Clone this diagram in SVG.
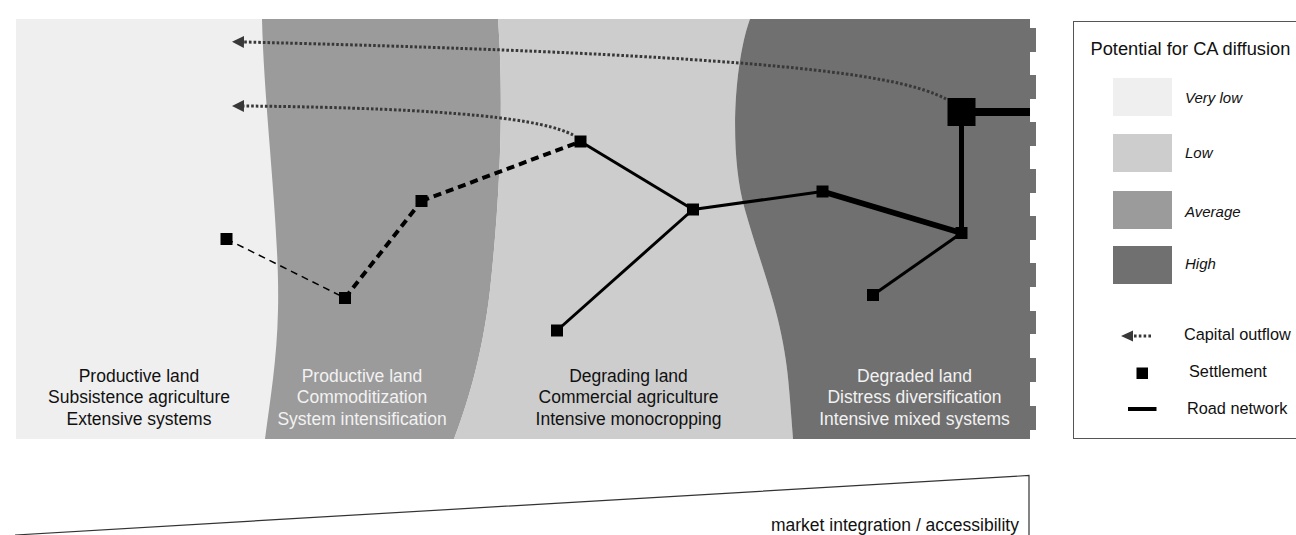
<svg xmlns="http://www.w3.org/2000/svg" width="1296" height="535" viewBox="0 0 1296 535">
<defs>
<style>
.lbl{font-family:"Liberation Sans",Arial,sans-serif;font-size:17.5px;text-anchor:middle}
.dk{fill:#111}
.lt{fill:#f2f2f2}
.node{fill:#000}
.road{fill:none;stroke:#000;stroke-linecap:butt}
.flow{fill:none;stroke:#383838;stroke-width:3;stroke-dasharray:2.6 2}
.leg{font-family:"Liberation Sans",Arial,sans-serif;font-size:16.3px;fill:#111}
.legi{font-family:"Liberation Sans",Arial,sans-serif;font-size:15px;font-style:italic;fill:#111}
</style>
<marker id="arr" markerUnits="userSpaceOnUse" markerWidth="12" markerHeight="12" viewBox="0 0 12 12" refX="0" refY="6" orient="auto">
<path d="M0,0 L12,6 L0,12 Z" fill="#383838"/>
</marker>
</defs>
<rect width="1296" height="535" fill="#fff"/>
<g id="zones">
<rect id="zone-very-low" x="16" y="19" width="1014" height="420" fill="#efefef"/>
<path id="zone-average" d="M262,19 C264,110 280,230 278,310 C277,360 270,400 265,439 L454,439 C465,410 482,360 490,290 C502,180 503,90 498,19 Z" fill="#9b9b9b"/>
<path id="zone-low" d="M498,19 C503,90 502,180 490,290 C482,360 465,410 454,439 L793,439 L790,400 C785,320 765,280 745,210 C728,150 735,60 750,19 Z" fill="#cdcdcd"/>
<g id="zone-high" fill="#707070">
<path d="M750,19 C735,60 728,150 745,210 C765,280 785,320 790,400 L793,439 L1030,439 L1030,19 Z"/>
<rect x="1029" y="28" width="7" height="24"/>
<rect x="1029" y="75" width="7" height="24"/>
<rect x="1029" y="122" width="7" height="24"/>
<rect x="1029" y="169" width="7" height="24"/>
<rect x="1029" y="216" width="7" height="24"/>
<rect x="1029" y="263" width="7" height="24"/>
<rect x="1029" y="311" width="7" height="23"/>
<rect x="1029" y="358" width="7" height="24"/>
<rect x="1029" y="406" width="7" height="24"/>
</g>
</g>
<g id="zone-labels">
<text class="lbl dk" x="139" y="381.5">Productive land</text>
<text class="lbl dk" x="139" y="403">Subsistence agriculture</text>
<text class="lbl dk" x="139" y="424.5">Extensive systems</text>
<text class="lbl lt" x="362" y="381.5">Productive land</text>
<text class="lbl lt" x="362" y="403">Commoditization</text>
<text class="lbl lt" x="362" y="424.5">System intensification</text>
<text class="lbl dk" x="628.5" y="381.5">Degrading land</text>
<text class="lbl dk" x="628.5" y="403">Commercial agriculture</text>
<text class="lbl dk" x="628.5" y="424.5">Intensive monocropping</text>
<text class="lbl lt" x="914.5" y="381.5">Degraded land</text>
<text class="lbl lt" x="914.5" y="403">Distress diversification</text>
<text class="lbl lt" x="914.5" y="424.5">Intensive mixed systems</text>
</g>
<g id="connectors">
<path class="flow" d="M946,99 C900,75 780,55 244,42" marker-end="url(#arr)"/>
<path class="flow" d="M573,135 C545,120 460,108 244,106" marker-end="url(#arr)"/>
<line class="road" x1="226.5" y1="239" x2="345" y2="298" stroke-width="1.5" stroke-dasharray="7 5"/>
<line class="road" x1="345" y1="298" x2="421.5" y2="201" stroke-width="4" stroke-dasharray="8 5"/>
<line class="road" x1="421.5" y1="201" x2="580.5" y2="141.5" stroke-width="4" stroke-dasharray="8 5"/>
<line class="road" x1="580.5" y1="141.5" x2="693" y2="209.5" stroke-width="3"/>
<line class="road" x1="557" y1="330.5" x2="693" y2="209.5" stroke-width="3"/>
<line class="road" x1="693" y1="209.5" x2="822.5" y2="191.5" stroke-width="3"/>
<line class="road" x1="822.5" y1="191.5" x2="961.5" y2="233" stroke-width="6"/>
<line class="road" x1="961.5" y1="233" x2="873" y2="295" stroke-width="3"/>
<line class="road" x1="961.5" y1="233" x2="961.5" y2="112" stroke-width="5"/>
<line class="road" x1="961.5" y1="112" x2="1030" y2="112" stroke-width="8"/>
</g>
<g id="node-a"><rect class="node" x="220.5" y="233" width="12" height="12"/></g>
<g id="node-b"><rect class="node" x="339" y="292" width="12" height="12"/></g>
<g id="node-c"><rect class="node" x="415.5" y="195" width="12" height="12"/></g>
<g id="node-d"><rect class="node" x="574.5" y="135.5" width="12" height="12"/></g>
<g id="node-e"><rect class="node" x="687" y="203.5" width="12" height="12"/></g>
<g id="node-f"><rect class="node" x="816.5" y="185.5" width="12" height="12"/></g>
<g id="node-g"><rect class="node" x="955.5" y="227" width="12" height="12"/></g>
<g id="node-h"><rect class="node" x="947.5" y="98" width="28" height="28"/></g>
<g id="node-i"><rect class="node" x="867" y="289" width="12" height="12"/></g>
<g id="node-j"><rect class="node" x="551" y="324.5" width="12" height="12"/></g>
<g id="legend">
<rect x="1073.5" y="21.5" width="230" height="417" fill="#fff" stroke="#555" stroke-width="1"/>
<text x="1090.5" y="55" font-family="Liberation Sans, Arial, sans-serif" font-size="18.3" fill="#111">Potential for CA diffusion</text>
<rect x="1113" y="78" width="59" height="38" fill="#efefef"/>
<rect x="1113" y="134" width="59" height="38" fill="#cdcdcd"/>
<rect x="1113" y="191" width="59" height="38" fill="#9b9b9b"/>
<rect x="1113" y="246" width="59" height="38" fill="#707070"/>
<text class="legi" x="1185" y="103">Very low</text>
<text class="legi" x="1185" y="158">Low</text>
<text class="legi" x="1185" y="216.5">Average</text>
<text class="legi" x="1185" y="269">High</text>
<path d="M1121,336 L1133,330.5 L1133,341.5 Z" fill="#383838"/>
<line x1="1134" y1="336" x2="1152" y2="336" stroke="#383838" stroke-width="3" stroke-dasharray="2.6 2.2"/>
<text class="leg" x="1184" y="340">Capital outflow</text>
<rect x="1136.5" y="367.5" width="11.5" height="11.5" fill="#000"/>
<text class="leg" x="1189" y="377">Settlement</text>
<line x1="1128" y1="409" x2="1156.5" y2="409" stroke="#000" stroke-width="4"/>
<text class="leg" x="1187" y="413.5">Road network</text>
</g>
<g id="axis">
<polyline points="15,535 1029,475.5 1029,535" fill="none" stroke="#333" stroke-width="1.2"/>
<text x="1019" y="531" font-family="Liberation Sans, Arial, sans-serif" font-size="17.5" fill="#111" text-anchor="end">market integration / accessibility</text>
</g>
</svg>
